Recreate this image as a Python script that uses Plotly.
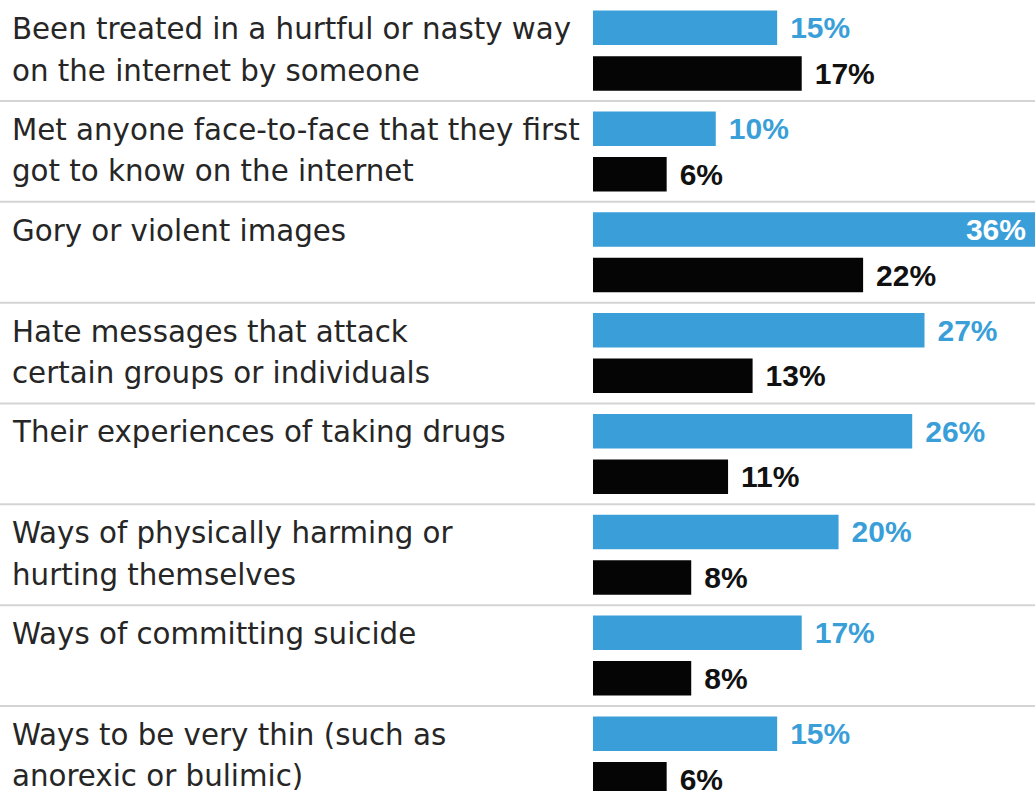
import plotly.graph_objects as go

categories = [
    "Been treated in a hurtful or nasty way<br>on the internet by someone",
    "Met anyone face-to-face that they first<br>got to know on the internet",
    "Gory or violent images",
    "Hate messages that attack<br>certain groups or individuals",
    "Their experiences of taking drugs",
    "Ways of physically harming or<br>hurting themselves",
    "Ways of committing suicide",
    "Ways to be very thin (such as<br>anorexic or bulimic)",
]
blue_values = [15, 10, 36, 27, 26, 20, 17, 15]
black_values = [17, 6, 22, 13, 11, 8, 8, 6]

BLUE = "#3a9fd8"
W, H = 1035, 791
SP = "\u2004"
THIN = "\u2009"

idx = list(range(len(categories)))
xmax = 36

blue_pos = ["inside" if v >= xmax else "outside" for v in blue_values]
blue_txt = [(f"{v}%{THIN}" if v >= xmax else f"{SP}{v}%") for v in blue_values]
blue_col = ["white" if v >= xmax else BLUE for v in blue_values]

fig = go.Figure()
fig.add_trace(go.Bar(
    y=idx, x=blue_values, orientation="h", marker=dict(color=BLUE, line=dict(width=0)),
    text=blue_txt, textposition=blue_pos, insidetextanchor="end",
    textfont=dict(family="Liberation Sans", size=30, color=blue_col, weight="bold"),
    cliponaxis=False, name="blue", constraintext="none",
))
fig.add_trace(go.Bar(
    y=idx, x=black_values, orientation="h", marker=dict(color="#050505", line=dict(width=0)),
    text=[f"{SP}{v}%" for v in black_values], textposition="outside",
    textfont=dict(family="Liberation Sans", size=30, color="#111111", weight="bold"),
    cliponaxis=False, name="black", constraintext="none",
))

for i in range(len(categories) - 1):
    fig.add_shape(type="line", xref="paper", yref="y", x0=0, x1=1, y0=i + 0.5, y1=i + 0.5,
                  line=dict(color="#d4d4d4", width=2), layer="below")

FS = 29.3
offs = [-0.214, 0.198]
for i, c in enumerate(categories):
    for j, ln in enumerate(c.split("<br>")):
        fig.add_annotation(x=10 / W, xref="paper", y=i + offs[j], yref="y",
                           text=ln, showarrow=False, xanchor="left", yanchor="middle",
                           font=dict(family="DejaVu Sans", size=FS, color="#262626"))

fig.update_layout(
    width=W, height=H, margin=dict(l=0, r=0, t=0, b=0),
    paper_bgcolor="white", plot_bgcolor="white",
    barmode="group", bargap=0.096, bargroupgap=0.243,
    showlegend=False,
    xaxis=dict(domain=[593 / W, 1], range=[0, xmax], visible=False, fixedrange=True),
    yaxis=dict(range=[7.343, -0.5017], visible=False, fixedrange=True),
)

fig.write_html("out.html")
